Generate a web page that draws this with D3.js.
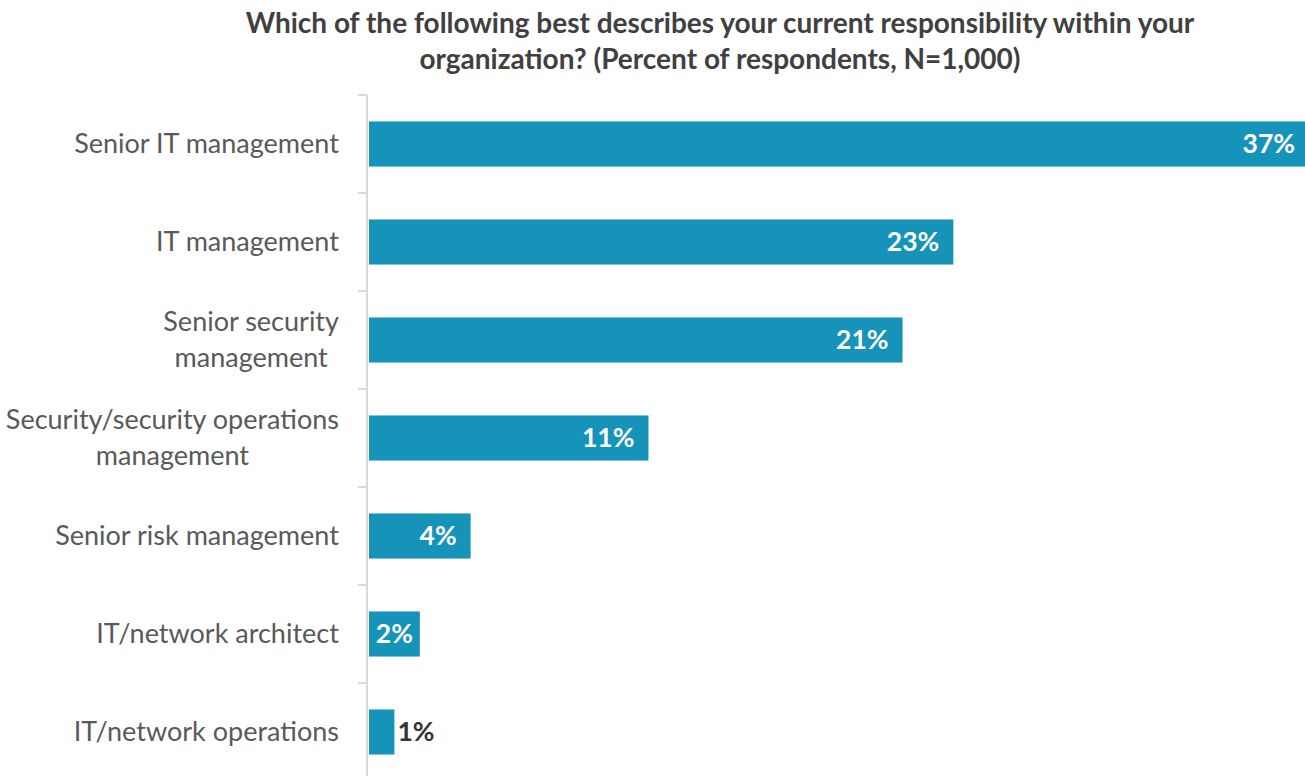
<!DOCTYPE html>
<html>
<head>
<meta charset="utf-8">
<script src="https://cdn.jsdelivr.net/npm/d3@7"></script>
<style>
  html, body { margin: 0; padding: 0; background: #ffffff; }
  svg { display: block; }
</style>
</head>
<body>
<svg id="chart" width="1305" height="776"></svg>
<script>
// Survey responses: current responsibility within the organization
const categories = [
  ["Senior IT management"],
  ["IT management"],
  ["Senior security", "management"],
  ["Security/security operations", "management"],
  ["Senior risk management"],
  ["IT/network architect"],
  ["IT/network operations"]
];
const values = [37, 23, 21, 11, 4, 2, 1];
const titleLines = [
  "Which of the following best describes your current responsibility within your",
  "organization? (Percent of respondents, N=1,000)"
];

const W = 1305, H = 776;
const font = "Lato, 'Open Sans', sans-serif";
const barColor = "#1593b9";
const svg = d3.select("#chart");

const keys = categories.map((c, i) => i);

const axisX = 367;
const y = d3.scaleBand()
  .domain(keys)
  .range([95, 781])
  .paddingInner(0.54)
  .paddingOuter(0.27);

// The longest bar runs slightly past the right edge of the canvas
const x = d3.scaleLinear()
  .domain([0, d3.max(values)])
  .range([axisX + 2, W + 4]);

// Title
svg.append("g")
  .selectAll("text")
  .data(titleLines)
  .join("text")
  .attr("x", 720)
  .attr("y", (d, i) => 33 + i * 36)
  .attr("text-anchor", "middle")
  .attr("font-family", font)
  .attr("font-weight", 700)
  .attr("font-size", 28)
  .attr("fill", "#404040")
  .text(d => d);

// Vertical category axis with ticks on band boundaries
const step = y.step();
const boundaries = d3.range(keys.length + 1).map(k => y.range()[0] + k * step);
const axisG = svg.append("g");
axisG.append("line")
  .attr("x1", axisX).attr("x2", axisX)
  .attr("y1", y.range()[0]).attr("y2", y.range()[1])
  .attr("stroke", "#d9d9d9").attr("stroke-width", 2);
axisG.selectAll("line.tick")
  .data(boundaries)
  .join("line")
  .attr("class", "tick")
  .attr("x1", axisX - 9).attr("x2", axisX)
  .attr("y1", d => d).attr("y2", d => d)
  .attr("stroke", "#d9d9d9").attr("stroke-width", 2);

// Bars
svg.append("g")
  .selectAll("rect")
  .data(values)
  .join("rect")
  .attr("x", x(0))
  .attr("y", (d, i) => y(i))
  .attr("width", d => x(d) - x(0))
  .attr("height", y.bandwidth())
  .attr("fill", barColor);

// Category labels: multi-line blocks centered on their own width, right edge at 339
const labelG = svg.append("g");
categories.forEach((lines, i) => {
  const cy = y(i) + y.bandwidth() / 2;
  const lh = 36.5;
  const t = labelG.append("text")
    .attr("font-family", font)
    .attr("font-size", 27)
    .attr("fill", "#595959")
    .attr("text-anchor", "middle");
  lines.forEach((ln, j) => {
    t.append("tspan")
      .attr("x", 0)
      .attr("y", cy + (j - (lines.length - 1) / 2) * lh)
      .attr("dy", "0.33em")
      .text(ln);
  });
  const bw = t.node().getBBox().width;
  t.attr("transform", `translate(${339 - bw / 2},0)`);
});

// Value labels: right-aligned inside the bar, centred when tight, outside when too short
const valG = svg.append("g");
values.forEach((v, i) => {
  const cy = y(i) + y.bandwidth() / 2;
  const t = valG.append("text")
    .attr("font-family", font)
    .attr("font-weight", 700)
    .attr("font-size", 26.5)
    .attr("dy", "0.35em")
    .attr("y", cy)
    .text(v + "%");
  const tw = t.node().getComputedTextLength();
  const bw = x(v) - x(0);
  if (bw >= tw + 18) {
    t.attr("x", x(v) - 14).attr("text-anchor", "end").attr("fill", "#ffffff");
  } else if (bw >= tw + 4) {
    t.attr("x", (x(0) + x(v)) / 2).attr("text-anchor", "middle").attr("fill", "#ffffff");
  } else {
    t.attr("x", x(v) + 3).attr("text-anchor", "start").attr("fill", "#333333");
  }
});
</script>
</body>
</html>
